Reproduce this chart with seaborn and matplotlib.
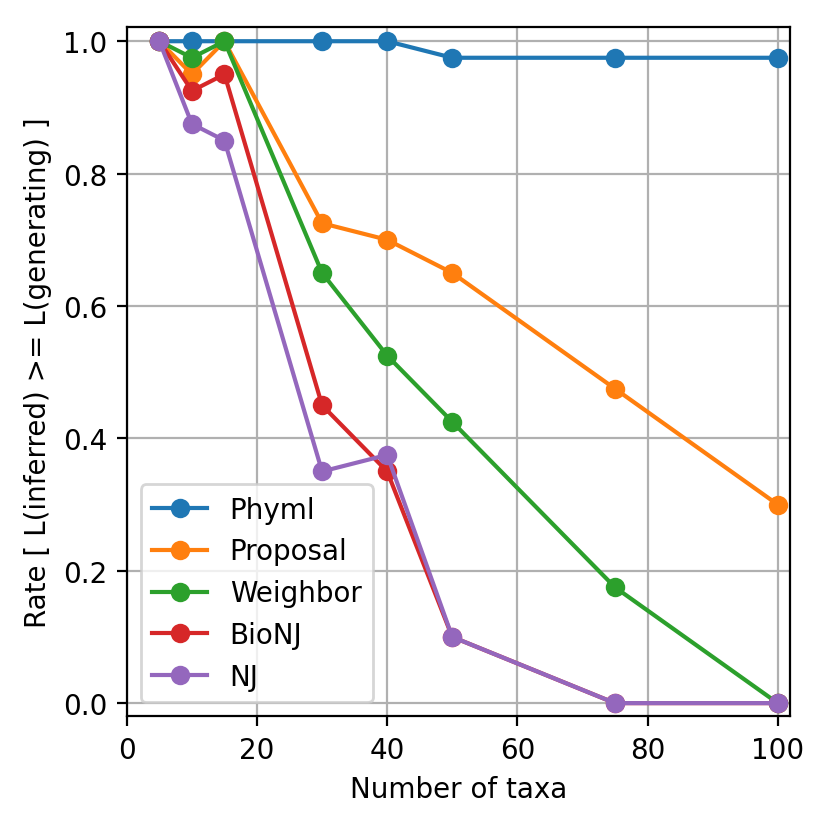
import matplotlib
matplotlib.use("Agg")
import matplotlib.pyplot as plt
import seaborn as sns
import pandas as pd

taxa = [5, 10, 15, 30, 40, 50, 75, 100]
phyml = [1.0, 1.0, 1.0, 1.0, 1.0, 0.975, 0.975, 0.975]
proposal = [1.0, 0.95, 1.0, 0.725, 0.7, 0.65, 0.475, 0.3]
weighbor = [1.0, 0.975, 1.0, 0.65, 0.525, 0.425, 0.175, 0.0]
bionj = [1.0, 0.925, 0.95, 0.45, 0.35, 0.1, 0.0, 0.0]
nj = [1.0, 0.875, 0.85, 0.35, 0.375, 0.1, 0.0, 0.0]

series = [("Phyml", phyml), ("Proposal", proposal), ("Weighbor", weighbor),
          ("BioNJ", bionj), ("NJ", nj)]
colors = ["#1f77b4", "#ff7f0e", "#2ca02c", "#d62728", "#9467bd"]

plt.rcParams["font.family"] = ["DejaVu Sans"]
fig = plt.figure(figsize=(829 / 200, 829 / 200), dpi=200)
ax = fig.add_axes([0.153, 0.135, 0.800, 0.831])

for (name, vals), c in zip(series, colors):
    df = pd.DataFrame({"x": taxa, "y": vals})
    sns.lineplot(data=df, x="x", y="y", ax=ax, color=c, marker="o",
                 markersize=7, markeredgewidth=0, linewidth=1.5, label=name)

ax.set_xlim(0, 101.9)
ax.set_ylim(-0.0196, 1.0212)
ax.set_xticks([0, 20, 40, 60, 80, 100])
ax.set_yticks([0.0, 0.2, 0.4, 0.6, 0.8, 1.0])
ax.grid(True, color="#b0b0b0", linewidth=0.8)
ax.set_axisbelow(True)
ax.set_xlabel("Number of taxa")
ax.set_ylabel("Rate [ L(inferred) >= L(generating) ]")
ax.legend(loc="lower left")
for s in ax.spines.values():
    s.set_color("black")
    s.set_linewidth(0.8)
ax.tick_params(colors="black", direction="out", length=3.5, width=0.8)

fig.savefig("out.png", dpi=200)
